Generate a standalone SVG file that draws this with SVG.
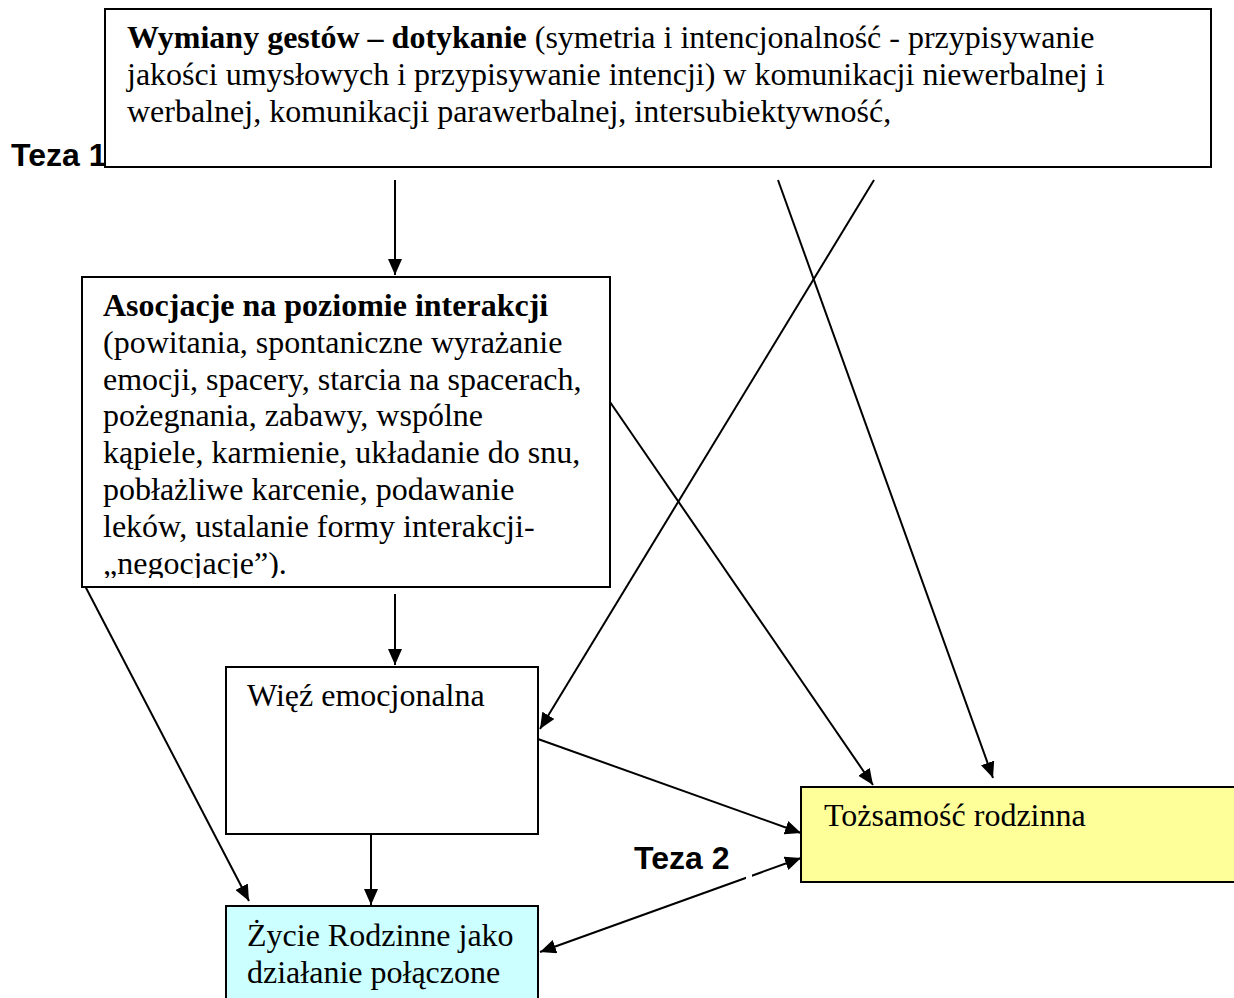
<svg xmlns="http://www.w3.org/2000/svg" width="1234" height="998" viewBox="0 0 1234 998">
<style>
.box{stroke:#000;stroke-width:2}
.t{font-family:"Liberation Serif","Times New Roman",serif;font-size:32px;fill:#000}
.b{font-weight:bold}
.teza{font-family:"Liberation Sans",Arial,sans-serif;font-size:32px;font-weight:bold;fill:#000}
.c{stroke:#000;stroke-width:2;fill:none}
</style>
<defs>
<marker id="ah" markerUnits="userSpaceOnUse" markerWidth="18" markerHeight="14" refX="16" refY="7" orient="auto-start-reverse">
<path d="M0,0 L16,7 L0,14 Z" fill="#000"/>
</marker>
<clipPath id="clipA"><rect x="82" y="277" width="528" height="301"/></clipPath>
</defs>
<rect width="1234" height="998" fill="#fff"/>

<g id="connectors">
<line class="c" x1="395" y1="180" x2="395" y2="275" marker-end="url(#ah)"/>
<line class="c" x1="395" y1="594" x2="395" y2="665" marker-end="url(#ah)"/>
<line class="c" x1="778" y1="180" x2="993" y2="778" marker-end="url(#ah)"/>
<line class="c" x1="874" y1="180" x2="540" y2="729" marker-end="url(#ah)"/>
<line class="c" x1="610" y1="402" x2="873" y2="785" marker-end="url(#ah)"/>
<line class="c" x1="84" y1="584" x2="249" y2="901" marker-end="url(#ah)"/>
<line class="c" x1="538" y1="739" x2="801" y2="833" marker-end="url(#ah)"/>
<line class="c" x1="371" y1="834" x2="371" y2="905" marker-end="url(#ah)"/>
<line class="c" x1="540" y1="952" x2="801" y2="858" marker-start="url(#ah)" marker-end="url(#ah)"/>
<rect x="746" y="874" width="6" height="6" fill="#fff"/>
</g>

<g id="n-top">
<rect class="box" x="105" y="9" width="1106" height="158" fill="#fff"/>
<text class="t" x="127" y="48"><tspan class="b">Wymiany gestów – dotykanie</tspan> (symetria i intencjonalność - przypisywanie</text>
<text class="t" x="127" y="85">jakości umysłowych i przypisywanie intencji) w komunikacji niewerbalnej i</text>
<text class="t" x="127" y="122">werbalnej, komunikacji parawerbalnej, intersubiektywność,</text>
</g>

<g id="teza1"><text class="teza" x="11" y="166">Teza 1</text></g>

<g id="n-asocjacje">
<rect class="box" x="82" y="277" width="528" height="310" fill="#fff"/>
<g clip-path="url(#clipA)">
<text class="t b" x="103" y="316">Asocjacje na poziomie interakcji</text>
<text class="t" x="103" y="353">(powitania, spontaniczne wyrażanie</text>
<text class="t" x="103" y="390">emocji, spacery, starcia na spacerach,</text>
<text class="t" x="103" y="426">pożegnania, zabawy, wspólne</text>
<text class="t" x="103" y="463">kąpiele, karmienie, układanie do snu,</text>
<text class="t" x="103" y="500">pobłażliwe karcenie, podawanie</text>
<text class="t" x="103" y="537">leków, ustalanie formy interakcji-</text>
<text class="t" x="103" y="574">„negocjacje”).</text>
</g>
</g>

<g id="n-wiez">
<rect class="box" x="226" y="667" width="312" height="167" fill="#fff"/>
<text class="t" x="247" y="706">Więź emocjonalna</text>
</g>

<g id="n-tozsamosc">
<rect class="box" x="801" y="787" width="440" height="95" fill="#ffff99"/>
<text class="t" x="824" y="826">Tożsamość rodzinna</text>
</g>

<g id="n-zycie">
<rect class="box" x="226" y="906" width="312" height="100" fill="#ccffff"/>
<text class="t" x="247" y="946">Życie Rodzinne jako</text>
<text class="t" x="247" y="983">działanie połączone</text>
</g>

<g id="teza2"><text class="teza" x="634" y="869">Teza 2</text></g>
</svg>
